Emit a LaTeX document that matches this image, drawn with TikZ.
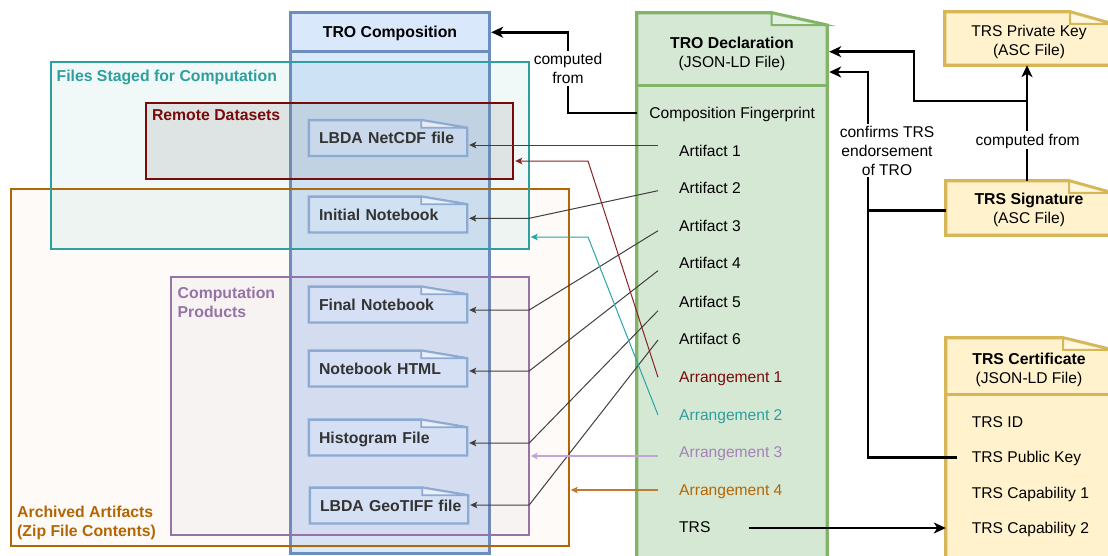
\documentclass[tikz,border=0pt]{standalone}
\usepackage{fontspec}
\setmainfont{Liberation Sans}
\usetikzlibrary{arrows.meta,calc,fit}
\pgfdeclarelayer{background}
\pgfsetlayers{background,main}

\definecolor{colblue}{HTML}{6C8EBF}
\definecolor{colfill}{HTML}{DAE8FC}
\definecolor{noteblue}{HTML}{8DAAD3}
\definecolor{declgreen}{HTML}{82B366}
\definecolor{declfill}{HTML}{D5E8D4}
\definecolor{keygold}{HTML}{D6B656}
\definecolor{keyfill}{HTML}{FFF2CC}
\definecolor{stagedteal}{HTML}{2E9E9E}
\definecolor{remotered}{HTML}{7A0A0A}
\definecolor{archorange}{HTML}{B46504}
\definecolor{prodpurple}{HTML}{9673A6}
\definecolor{linkgray}{HTML}{404040}
\definecolor{arrred}{HTML}{8B2020}
\definecolor{arrteal}{HTML}{2AA5A5}
\definecolor{arrpurple}{HTML}{C2A5D2}
\definecolor{arrorange}{HTML}{C27A32}
\definecolor{purpletext}{HTML}{A582B8}
\definecolor{textgray}{HTML}{333333}
\definecolor{remotefill}{HTML}{8C8C8C}

% outline of a note shape with a folded top-right corner
\newcommand\notefold[4]{%
  \draw[#1] (#2.north west) -- ([xshift=-#3]#2.north east) -- ([yshift=-#4]#2.north east)
    -- (#2.south east) -- (#2.south west) -- cycle;
}
\newcommand\noteflap[4]{%
  \draw[#1] ([xshift=-#3]#2.north east) -- ([xshift=-#3,yshift=-#4]#2.north east)
    -- ([yshift=-#4]#2.north east) -- cycle;
}

\tikzset{
  every node/.style={font=\fontsize{15.6}{19}\selectfont, inner sep=0pt},
  boldtext/.style={font=\fontsize{15.8}{19}\selectfont\bfseries},
  oneline/.style={text height=11.3pt, text depth=0pt},
  drow/.style={oneline, anchor=west, inner xsep=21pt},
  crow/.style={oneline, anchor=west, inner xsep=14.7pt},
  filenote/.style={oneline, boldtext, text=textgray, text width=138pt, align=left,
    inner xsep=10pt, minimum height=35.5pt},
  fileshape/.style={draw=noteblue, line width=2.4pt, fill=colfill, fill opacity=0.35},
  fileflap/.style={draw=noteblue, line width=1.6pt, fill=white, fill opacity=0.5},
  grp/.style={line width=1.8pt},
  link/.style={draw=linkgray, line width=1pt, -{Stealth[length=7pt,width=6.5pt,inset=1.5pt]}},
  heavy/.style={draw=black, line width=2.6pt},
  heavylink/.style={heavy, -{Stealth[length=12pt,width=11pt,inset=3.5pt]}},
  tag/.style={fill=white, inner sep=2pt},
}

\begin{document}
\begin{tikzpicture}[x=1pt,y=-1pt]
\useasboundingbox (0,0) rectangle (1108,555);

% ---------- frames ----------
\node[fit={(291,13) (489,553)}] (tro) {};
\node[fit={(291,13) (489,51.5)}] (trohead) {};
\node[fit={(11,189) (569,546)}] (arch) {};
\node[fit={(51,62) (529,249)}] (staged) {};
\node[fit={(146,103) (513,179)}] (remote) {};
\node[fit={(171,277) (529,535)}] (cp) {};
\node[fit={(637,13) (827,560)}] (decl) {};
\node[fit={(637,13) (827,85)}] (declhead) {};
\node[fit={(945,12) (1112,65)}] (pk) {};
\node[fit={(946,181) (1112,235)}] (sig) {};
\node[fit={(946,338) (1112,562)}] (cert) {};
\node[fit={(946,338) (1112,394)}] (certhead) {};

% ---------- titles and group labels ----------
\node[boldtext, oneline] (trotitle) at (390,32) {TRO Composition};
\node[boldtext, oneline, anchor=west, text=stagedteal] (stagedlbl) at (56.4,76) {Files Staged for Computation};
\node[boldtext, oneline, anchor=west, text=remotered] (remotelbl) at (151.8,115) {Remote Datasets};
\node[boldtext, anchor=west, align=left, text=prodpurple] (cplbl) at (177.5,302.2) {Computation\\Products};
\node[boldtext, anchor=west, align=left, text=archorange] (archlbl) at (17,522.85) {Archived Artifacts\\(Zip File Contents)};

% ---------- archived files ----------
\node[filenote] (nc)   at (388,138)   {\mbox{LBDA NetCDF file}};
\node[filenote] (ini)  at (388,214.5) {\mbox{Initial Notebook}};
\node[filenote] (fin)  at (388,304.5) {\mbox{Final Notebook}};
\node[filenote] (html) at (388,368.5) {\mbox{Notebook HTML}};
\node[filenote] (hist) at (388,437.5) {\mbox{Histogram File}};
\node[filenote] (geo)  at (389,505.5) {\mbox{LBDA GeoTIFF file}};

% ---------- declaration ----------
\node[align=center] (decltitle) at (732,53.85) {{\fontsize{15.8}{19}\selectfont\bfseries TRO Declaration}\\(JSON-LD File)};
\node[oneline, anchor=west, minimum width=190pt] (fp) at (637,113) {Composition Fingerprint};
\node[drow] (a1) at (658,150.7) {Artifact 1};
\node[drow] (a2) at (658,188.3) {Artifact 2};
\node[drow] (a3) at (658,226)   {Artifact 3};
\node[drow] (a4) at (658,263.3) {Artifact 4};
\node[drow] (a5) at (658,301.7) {Artifact 5};
\node[drow] (a6) at (658,339)   {Artifact 6};
\node[drow, text=remotered]  (r1) at (658,377.3) {Arrangement 1};
\node[drow, text=stagedteal] (r2) at (658,415)   {Arrangement 2};
\node[drow, text=purpletext] (r3) at (658,452.3) {Arrangement 3};
\node[drow, text=archorange] (r4) at (658,490)   {Arrangement 4};
\node[drow] (trs) at (658,527.3) {TRS};

% ---------- signing material ----------
\node[align=center] (pktitle) at (1029,41.85) {TRS Private Key\\(ASC File)};
\node[align=center] (sigtitle) at (1029,209.45) {{\fontsize{15.8}{19}\selectfont\bfseries TRS Signature}\\(ASC File)};
\node[align=center] (certtitle) at (1029,370.15) {{\fontsize{15.8}{19}\selectfont\bfseries TRS Certificate}\\(JSON-LD File)};
\node[crow] (tid)  at (957,421.7) {TRS ID};
\node[crow] (pub)  at (957,457.3) {TRS Public Key};
\node[crow] (cap1) at (957,492.7) {TRS Capability 1};
\node[crow] (cap2) at (957,528.3) {TRS Capability 2};

% ---------- shapes behind the text ----------
\begin{pgfonlayer}{background}
  \draw[fill=colfill, draw=colblue, line width=3.2pt] (tro.north west) rectangle (tro.south east);
  \draw[colblue, line width=3.2pt] (trohead.south west) -- (trohead.south east);
  \draw[grp, draw=archorange, fill=archorange, fill opacity=0.03] (arch.north west) rectangle (arch.south east);
  \draw[grp, draw=stagedteal, fill=stagedteal, fill opacity=0.07] (staged.north west) rectangle (staged.south east);
  \draw[grp, draw=remotered, fill=remotefill, fill opacity=0.18] (remote.north west) rectangle (remote.south east);
  \draw[grp, draw=prodpurple, fill=prodpurple, fill opacity=0.05] (cp.north west) rectangle (cp.south east);
  \foreach \n in {nc,ini,fin,html,hist,geo}{%
    \notefold{fileshape}{\n}{46pt}{7.7pt}
    \noteflap{fileflap}{\n}{46pt}{7.7pt}
  }
  \notefold{fill=declfill, draw=declgreen, line width=3.2pt}{decl}{55.5pt}{12.3pt}
  \noteflap{fill=white, fill opacity=0.35, draw=declgreen, line width=2pt}{decl}{55.5pt}{12.3pt}
  \draw[declgreen, line width=3.2pt] (declhead.south west) -- (declhead.south east);
  \foreach \n/\w in {pk/42pt,sig/43pt,cert/49pt}{%
    \notefold{fill=keyfill, draw=keygold, line width=3.2pt}{\n}{\w}{12pt}
    \noteflap{fill=white, fill opacity=0.4, draw=keygold, line width=2pt}{\n}{\w}{12pt}
  }
  \draw[keygold, line width=3.2pt] (certhead.south west) -- (certhead.south east);
\end{pgfonlayer}

% ---------- artifact links ----------
\coordinate (nc-in)   at ($(nc.east)+(2,7)$);
\coordinate (ini-in)  at ($(ini.east)+(2,3.8)$);
\coordinate (fin-in)  at ($(fin.east)+(2,5.5)$);
\coordinate (html-in) at ($(html.east)+(2,2.5)$);
\coordinate (hist-in) at ($(hist.east)+(2,5.5)$);
\coordinate (geo-in)  at ($(geo.east)+(2,-0.5)$);
\draw[link] ($(a1.west)+(0,-5.7)$) -- (nc-in);
\draw[link] ($(a2.west)+(0,2.4)$) -- (ini-in -| cp.east) -- (ini-in);
\draw[link] ($(a3.west)+(0,4.7)$) -- (fin-in -| cp.east) -- (fin-in);
\draw[link] ($(a4.west)+(0,7.4)$) -- (html-in -| cp.east) -- (html-in);
\draw[link] ($(a5.west)+(0,9)$) -- (hist-in -| cp.east) -- (hist-in);
\draw[link] ($(a6.west)+(0,1)$) -- (geo-in -| cp.east) -- (geo-in);

% ---------- arrangement links ----------
\coordinate (red-bend)  at (588,161);
\coordinate (teal-bend) at (588,237);
\coordinate (p3) at ($(r3.west)+(0,3.7)$);
\draw[link, draw=arrred] (r1.west) -- (red-bend) -- ($(red-bend -| remote.east)+(2,0)$);
\draw[link, draw=arrteal] (r2.west) -- (teal-bend) -- ($(teal-bend -| staged.east)+(1.5,0)$);
\draw[link, draw=arrpurple, line width=1.2pt] (p3) -- ($(p3 -| cp.east)+(1.5,0)$);
\draw[link, draw=arrorange, line width=1.2pt] (r4.west) -- ($(r4.west -| arch.east)+(1.5,0)$);

% ---------- heavy links ----------
\draw[heavylink] (fp.west) -| (568,60) |- ($(trohead.east)+(2,0)$);
\coordinate (sig-top) at ($(sig.north)+(-2,0)$);
\draw[heavylink] (sig-top) -- (sig-top |- pk.south);
\draw[heavylink] (sig-top) |- (914,101) |- ($(declhead.east)+(2,2.7)$);
\draw[heavylink] (pub.west) -| (868,300) |- ($(declhead.east)+(2,23)$);
\draw[heavy] ($(sig.west)+(0,2.7)$) -- ++(-78,0);
\coordinate (trs-hit) at (trs.west -| cert.west);
\draw[heavylink] ($(trs.west)+(91,0.7)$) -- ($(trs-hit)+(0,0.7)$);

% ---------- edge labels ----------
\node[tag, align=center] (lbl-comp) at (568,68.5) {computed\\from};
\node[tag, oneline, inner sep=3pt] (lbl-key) at (1027.7,140) {computed from};
\node[tag, align=center] (lbl-conf) at (887,150.7) {confirms TRS\\endorsement\\of TRO};
\end{tikzpicture}
\end{document}
